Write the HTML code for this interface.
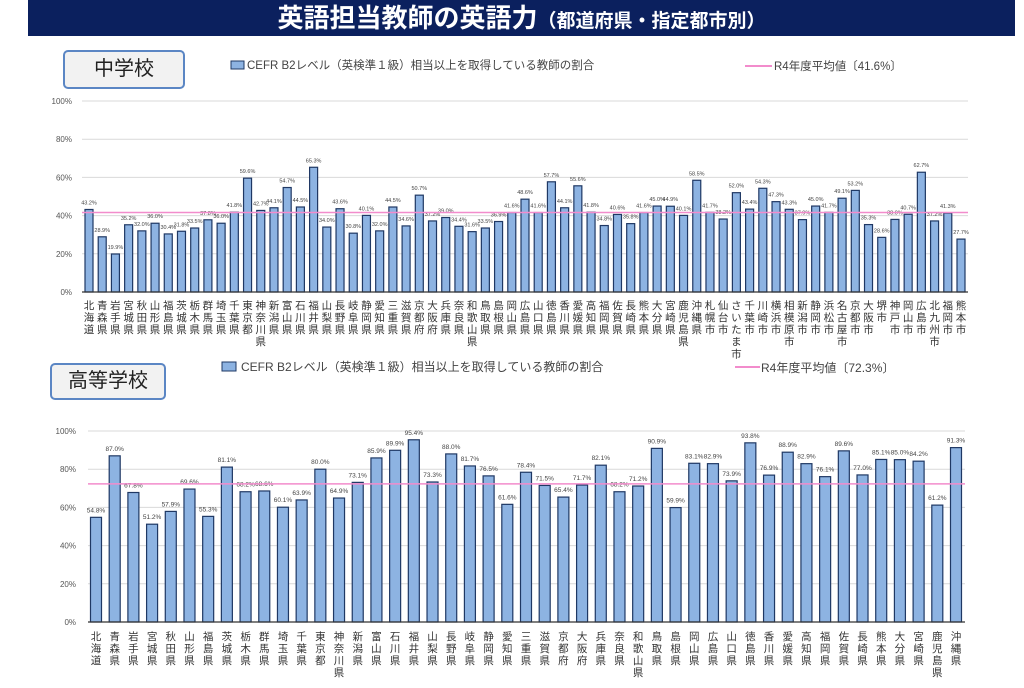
<!DOCTYPE html>
<html><head><meta charset="utf-8">
<style>
html,body{margin:0;padding:0;background:#fff;}
body{width:1024px;height:688px;overflow:hidden;position:relative;font-family:"Liberation Sans","Noto Sans CJK JP",sans-serif;}
.title{position:absolute;left:28px;top:0;width:987px;height:36px;background:#0b205e;color:#fff;text-align:center;font-weight:bold;font-size:26px;line-height:36px;}
.title small{font-size:19px;}
.box{position:absolute;border:2px solid #5b86c4;border-radius:5px;background:#f2f2f2;text-align:center;font-size:20px;color:#222;}
svg{position:absolute;left:0;top:0;}
</style></head><body>
<div class="title">英語担当教師の英語力<small>（都道府県・指定都市別）</small></div>
<div class="box" style="left:63px;top:50px;width:118px;height:35px;line-height:35px;">中学校</div>
<div class="box" style="left:50px;top:363px;width:112px;height:33px;line-height:33px;">高等学校</div>
<svg id="s" width="1024" height="688" xmlns="http://www.w3.org/2000/svg" font-family="Liberation Sans, Noto Sans CJK JP, sans-serif"></svg>
<script>
const NS="http://www.w3.org/2000/svg";const S=document.getElementById('s');
function el(t,a,txt){const e=document.createElementNS(NS,t);for(const k in a)e.setAttribute(k,a[k]);if(txt!==undefined)e.textContent=txt;S.appendChild(e);return e;}
const pref=["北海道","青森県","岩手県","宮城県","秋田県","山形県","福島県","茨城県","栃木県","群馬県","埼玉県","千葉県","東京都","神奈川県","新潟県","富山県","石川県","福井県","山梨県","長野県","岐阜県","静岡県","愛知県","三重県","滋賀県","京都府","大阪府","兵庫県","奈良県","和歌山県","鳥取県","島根県","岡山県","広島県","山口県","徳島県","香川県","愛媛県","高知県","福岡県","佐賀県","長崎県","熊本県","大分県","宮崎県","鹿児島県","沖縄県"];
const city=["札幌市","仙台市","さいたま市","千葉市","川崎市","横浜市","相模原市","新潟市","静岡市","浜松市","名古屋市","京都市","大阪市","堺市","神戸市","岡山市","広島市","北九州市","福岡市","熊本市"];
const v1=[43.2,28.9,19.9,35.2,32.0,36.0,30.4,31.8,33.5,37.8,36.0,41.8,59.6,42.7,44.1,54.7,44.5,65.3,34.0,43.6,30.8,40.1,32.0,44.5,34.6,50.7,37.2,39.0,34.4,31.6,33.5,36.9,41.6,48.6,41.6,57.7,44.1,55.6,41.8,34.8,40.6,35.8,41.6,45.0,44.9,40.1,58.5,41.7,38.2,52.0,43.4,54.3,47.3,43.3,37.9,45.0,41.7,49.1,53.2,35.3,28.6,38.0,40.7,62.7,37.2,41.3,27.7];
const v2=[54.8,87.0,67.8,51.2,57.9,69.6,55.3,81.1,68.2,68.6,60.1,63.9,80.0,64.9,73.1,85.9,89.9,95.4,73.3,88.0,81.7,76.5,61.6,78.4,71.5,65.4,71.7,82.1,68.2,71.2,90.9,59.9,83.1,82.9,73.9,93.8,76.9,88.9,82.9,76.1,89.6,77.0,85.1,85.0,84.2,61.2,91.3];
function chart(o){
 const {names,vals,y0,y100,x0,x1,cx0,cx1,bw,avg,lblTop,fs,cfs,ylx}=o;
 const h=(y0-y100);
 for(let p=0;p<=100;p+=20){const y=y0-h*p/100;
  if(p>0)el('line',{x1:x0,x2:x1,y1:y,y2:y,stroke:'#d9d9d9','stroke-width':1});
  el('text',{x:ylx,y:y+3,'font-size':8,'text-anchor':'end',fill:'#555'},p+'%');}
 const n=vals.length,step=(cx1-cx0)/(n-1);
 vals.forEach((v,i)=>{const cx=cx0+i*step,top=y0-h*v/100;
  el('rect',{x:cx-bw/2,y:top,width:bw,height:y0-top,fill:'#8db3e2',stroke:'#1f3864','stroke-width':1.2});
  el('text',{x:cx,y:top-5,'font-size':fs,'text-anchor':'middle',fill:'#444'},v.toFixed(1)+'%');
  [...names[i]].forEach((c,j)=>el('text',{x:cx,y:lblTop+j*cfs*1.15,'font-size':cfs,'text-anchor':'middle',fill:'#333'},c));
 });
 el('line',{x1:x0,x2:x1,y1:y0,y2:y0,stroke:'#333','stroke-width':1.2});
 const ay=y0-h*avg/100;
 el('line',{x1:x0,x2:x1,y1:ay,y2:ay,stroke:'#f28ccc','stroke-width':1.5});
}
chart({names:pref.concat(city),vals:v1,y0:292,y100:101,x0:82,x1:968,cx0:89,cx1:961,bw:8,avg:41.6,lblTop:309,fs:5.5,cfs:10.5,ylx:72});
chart({names:pref,vals:v2,y0:622,y100:431,x0:88,x1:965,cx0:96,cx1:956,bw:11,avg:72.3,lblTop:640,fs:6.5,cfs:10.5,ylx:76});
// legends
el('rect',{x:231,y:61,width:13,height:8,fill:'#8db3e2',stroke:'#1f3864'});
el('text',{x:247,y:69,'font-size':11.5,fill:'#444'},'CEFR B2レベル（英検準１級）相当以上を取得している教師の割合');
el('line',{x1:745,x2:772,y1:66,y2:66,stroke:'#f28ccc','stroke-width':2});
el('text',{x:774,y:70,'font-size':11.5,fill:'#444'},'R4年度平均値〔41.6%〕');
el('rect',{x:222,y:362,width:14,height:9,fill:'#8db3e2',stroke:'#1f3864'});
el('text',{x:241,y:371,'font-size':12,fill:'#444'},'CEFR B2レベル（英検準１級）相当以上を取得している教師の割合');
el('line',{x1:735,x2:760,y1:367,y2:367,stroke:'#f28ccc','stroke-width':2});
el('text',{x:761,y:372,'font-size':12,fill:'#444'},'R4年度平均値〔72.3%〕');
</script>
</body></html>
